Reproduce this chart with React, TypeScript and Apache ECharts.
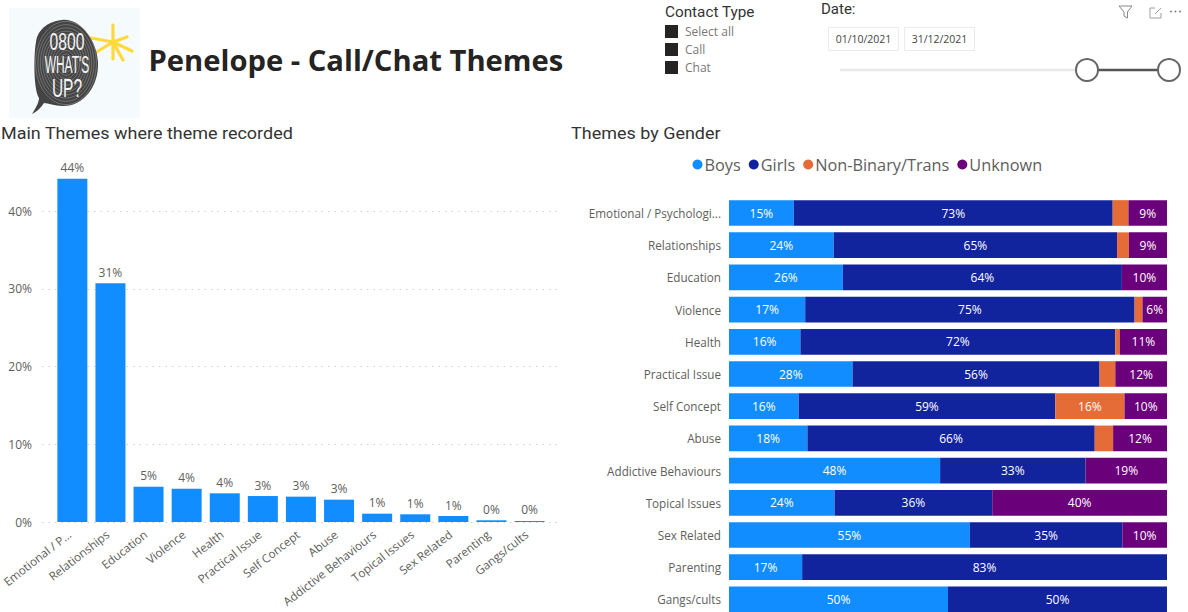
import React, { useEffect, useRef } from "react";
import * as echarts from "echarts";

const BODY_FONT = "'Open Sans', sans-serif";
const HEAD_FONT = "Roboto, sans-serif";
const MUTED = "#605E5C";

const themes = [
  "Emotional / Psychological",
  "Relationships",
  "Education",
  "Violence",
  "Health",
  "Practical Issue",
  "Self Concept",
  "Abuse",
  "Addictive Behaviours",
  "Topical Issues",
  "Sex Related",
  "Parenting",
  "Gangs/cults",
];

const themeShare = [44.15, 30.7, 4.54, 4.29, 3.69, 3.34, 3.26, 2.87, 1.07, 0.99, 0.77, 0.22, 0.13];

const genderNames = ["Boys", "Girls", "Non-Binary/Trans", "Unknown"];
const genderColours = ["#118DFF", "#12239E", "#E66C37", "#6B007B"];
const boys = [14.8, 23.9, 26.0, 17.4, 16.3, 28.2, 15.9, 17.9, 48.2, 24.1, 55.0, 16.7, 50];
const girls = [72.8, 64.7, 63.7, 75.2, 71.9, 56.4, 58.6, 65.6, 33.2, 36.0, 34.8, 83.3, 50];
const nonBinary = [3.6, 2.7, 0, 1.8, 1.0, 3.6, 15.8, 4.2, 0, 0, 0, 0, 0];
const unknown = [8.8, 8.7, 10.3, 5.6, 10.8, 11.8, 9.7, 12.3, 18.6, 39.9, 10.2, 0, 0];
const genderValues = [boys, girls, nonBinary, unknown];

const contactTypes = ["Select all", "Call", "Chat"];
const dateRange = ["01/10/2021", "31/12/2021"];

const bubblePath =
  "M62 20C80 18 97 40 98 62C99 88 82 107 62 106C55 106 48 103 44 103C41 108 36 112 32 114C36 108 39 102 39 98C33 88 34 52 36 42C38 28 50 21 62 20Z";
echarts.graphic.registerShape("speechBubble", echarts.graphic.extendPath(bubblePath, {}));

// Only names longer than the axis can hold get an ellipsis.
const shorten = (name: string, length: number) =>
  name.length > 20 ? name.slice(0, length) + "..." : name;

const label = (
  text: string,
  x: number,
  y: number,
  font: string,
  fill: string,
  align = "left",
  scaleX = 1
) => ({
  type: "text",
  x,
  y,
  scaleX,
  style: { text, font, fill, align, verticalAlign: "middle" },
});

function logoGraphics() {
  const rings = [32, 29.5, 27, 24.5, 22, 19.5, 17, 14.5, 12, 9.5, 7, 4.5].map((r) => ({
    type: "ellipse",
    shape: { cx: 66, cy: 63, rx: r * 0.95, ry: r * 1.3 },
    style: { fill: "none", stroke: "rgba(255,255,255,0.35)", lineWidth: 0.7 },
  }));
  const starArms = [
    [113, 25],
    [127, 37],
    [132, 51],
    [123, 60],
    [113, 59],
    [95, 53],
    [91, 38],
  ].map(([x2, y2]) => ({
    type: "line",
    shape: { x1: 113, y1: 42, x2, y2 },
    style: { stroke: "#FFD93B", lineWidth: 3.2, lineCap: "round" },
  }));
  const word = (text: string, y: number, size: number, scaleX: number) => ({
    type: "text",
    x: 67,
    y,
    scaleX,
    style: {
      text,
      font: `${size}px 'Liberation Sans', sans-serif`,
      fill: "#F4F4F4",
      align: "center",
      verticalAlign: "middle",
    },
  });
  return [
    { type: "rect", shape: { x: 9, y: 8, width: 131, height: 110 }, style: { fill: "#F5FAFC" } },
    ...starArms,
    { type: "speechBubble", x: 0, y: 0, style: { fill: "#444444" } },
    ...rings,
    word("0800", 42, 23, 0.68),
    word("WHAT'S", 65, 24, 0.5),
    word("UP?", 88, 25, 0.62),
  ];
}

function slicerGraphics() {
  const items = contactTypes.flatMap((name, i) => {
    const y = 31 + i * 18;
    return [
      { type: "rect", shape: { x: 665, y: y - 6, width: 13, height: 13 }, style: { fill: "#252423" } },
      label(name, 685, y, `12px ${BODY_FONT}`, "#7A7876"),
    ];
  });
  const dates = dateRange.flatMap((text, i) => {
    const x = 828 + i * 76;
    return [
      {
        type: "rect",
        shape: { x: x + 0.5, y: 27.5, width: 70, height: 23 },
        style: { fill: "#fff", stroke: "#EDEBE9", lineWidth: 1 },
      },
      label(text, x + 35.5, 39, `10.5px ${BODY_FONT}`, "#444", "center"),
    ];
  });
  return [
    label("Contact Type", 665, 12, `15px ${HEAD_FONT}`, "#333", "left", 1.02),
    ...items,
    label("Date:", 821, 9, `15px ${HEAD_FONT}`, "#333"),
    ...dates,
    { type: "line", shape: { x1: 840, y1: 70, x2: 1087, y2: 70 }, style: { stroke: "#E8E8E8", lineWidth: 2.5 } },
    { type: "line", shape: { x1: 1087, y1: 70, x2: 1169, y2: 70 }, style: { stroke: "#555", lineWidth: 2.5 } },
    { type: "circle", shape: { cx: 1087, cy: 70, r: 11 }, style: { fill: "#fff", stroke: "#666", lineWidth: 2 } },
    { type: "circle", shape: { cx: 1169, cy: 70, r: 11 }, style: { fill: "#fff", stroke: "#666", lineWidth: 2 } },
    // visual header icons: filter, focus mode, more options
    {
      type: "polygon",
      shape: { points: [[1119, 6], [1132, 6], [1127.5, 12], [1127.5, 18], [1124, 16], [1124, 12]] },
      style: { fill: "none", stroke: "#8A8886", lineWidth: 1 },
    },
    { type: "polyline", shape: { points: [[1155, 8], [1150, 8], [1150, 18], [1161, 18], [1161, 13]] }, style: { fill: "none", stroke: "#A19F9D", lineWidth: 1 } },
    { type: "line", shape: { x1: 1155, y1: 14, x2: 1161, y2: 8 }, style: { stroke: "#A19F9D", lineWidth: 1 } },
    { type: "circle", shape: { cx: 1171, cy: 11.5, r: 0.9 }, style: { fill: "#777" } },
    { type: "circle", shape: { cx: 1175.5, cy: 11.5, r: 0.9 }, style: { fill: "#777" } },
    { type: "circle", shape: { cx: 1180, cy: 11.5, r: 0.9 }, style: { fill: "#777" } },
  ];
}

const percent = (v: number) => `${Math.round(v)}%`;

export default function App() {
  const ref = useRef<HTMLDivElement>(null);

  useEffect(() => {
    document.body.style.margin = "0";
    const chart = echarts.init(ref.current!, null, { renderer: "svg" });
    chart.setOption({
      animation: false,
      backgroundColor: "#fff",
      textStyle: { fontFamily: BODY_FONT },
      graphic: [
        ...logoGraphics(),
        label("Penelope - Call/Chat Themes", 148.5, 60, `700 29.2px ${BODY_FONT}`, "#252423"),
        label("Main Themes where theme recorded", 1, 133, `16.5px ${HEAD_FONT}`, "#333", "left", 1.09),
        label("Themes by Gender", 571, 133, `16.5px ${HEAD_FONT}`, "#333", "left", 1.09),
        ...slicerGraphics(),
      ],
      legend: {
        data: genderNames,
        left: 687.5,
        top: 151.5,
        icon: "circle",
        itemWidth: 10,
        itemHeight: 10,
        itemGap: 8,
        textStyle: { color: MUTED, fontSize: 16.3, fontFamily: BODY_FONT, padding: [0, 0, 0, -3] },
      },
      grid: [
        // gridline panel, slightly wider than the columns it sits behind
        { left: 42, width: 515, top: 133.25, height: 388.75, outerBoundsMode: "none" },
        // columns
        { left: 53.3, width: 495.3, top: 133.25, height: 388.75, outerBoundsMode: "none" },
        // stacked gender bars; the last row runs to the edge of the page
        { left: 729, width: 438, top: 196.9, height: 418.6, outerBoundsMode: "none" },
      ],
      xAxis: [
        { gridIndex: 0, type: "category", data: [], show: false },
        {
          gridIndex: 1,
          type: "category",
          data: themes,
          axisLine: { show: false },
          axisTick: { show: false },
          axisLabel: {
            interval: 0,
            rotate: 38,
            margin: 8,
            padding: [0, 4, 0, 0],
            color: MUTED,
            fontSize: 11.7,
            fontFamily: BODY_FONT,
            formatter: (v: string) => shorten(v, 13),
          },
        },
        {
          gridIndex: 2,
          type: "value",
          min: 0,
          max: 100,
          show: false,
        },
      ],
      yAxis: [
        {
          gridIndex: 0,
          type: "value",
          min: 0,
          max: 50,
          interval: 10,
          axisLine: { show: false },
          axisTick: { show: false },
          axisLabel: {
            margin: 10,
            color: MUTED,
            fontSize: 12,
            fontFamily: BODY_FONT,
            showMaxLabel: false,
            formatter: (v: number) => `${v}%`,
          },
          splitLine: {
            showMaxLine: false,
            lineStyle: { color: "#D2D0CE", type: [1.5, 5], width: 1 },
          },
        },
        { gridIndex: 1, type: "value", min: 0, max: 50, show: false },
        {
          gridIndex: 2,
          type: "category",
          inverse: true,
          data: themes,
          axisLine: { show: false },
          axisTick: { show: false },
          axisLabel: {
            interval: 0,
            margin: 8,
            color: MUTED,
            fontSize: 11.7,
            fontFamily: BODY_FONT,
            formatter: (v: string) => shorten(v, 22),
          },
        },
      ],
      series: [
        { type: "bar", xAxisIndex: 0, yAxisIndex: 0, data: [] },
        {
          type: "bar",
          name: "Share of themes",
          xAxisIndex: 1,
          yAxisIndex: 1,
          data: themeShare,
          barWidth: 30,
          itemStyle: { color: "#118DFF" },
          label: {
            show: true,
            position: "top",
            distance: 5,
            color: MUTED,
            fontSize: 12,
            fontFamily: BODY_FONT,
            formatter: (p: any) => percent(p.value),
          },
        },
        ...genderNames.map((name, i) => ({
          type: "bar",
          name,
          stack: "gender",
          xAxisIndex: 2,
          yAxisIndex: 2,
          data: genderValues[i],
          barWidth: 25.7,
          itemStyle: { color: genderColours[i] },
          label: {
            show: true,
            position: "inside",
            color: "#fff",
            fontSize: 12,
            fontFamily: BODY_FONT,
            formatter: (p: any) => (p.value >= 5 ? percent(p.value) : ""),
          },
        })),
      ],
    });
    return () => chart.dispose();
  }, []);

  return (
    <div style={{ width: 1188, height: 612, overflow: "hidden", position: "absolute", left: 0, top: 0 }}>
      <div ref={ref} style={{ width: 1188, height: 640 }} />
    </div>
  );
}
